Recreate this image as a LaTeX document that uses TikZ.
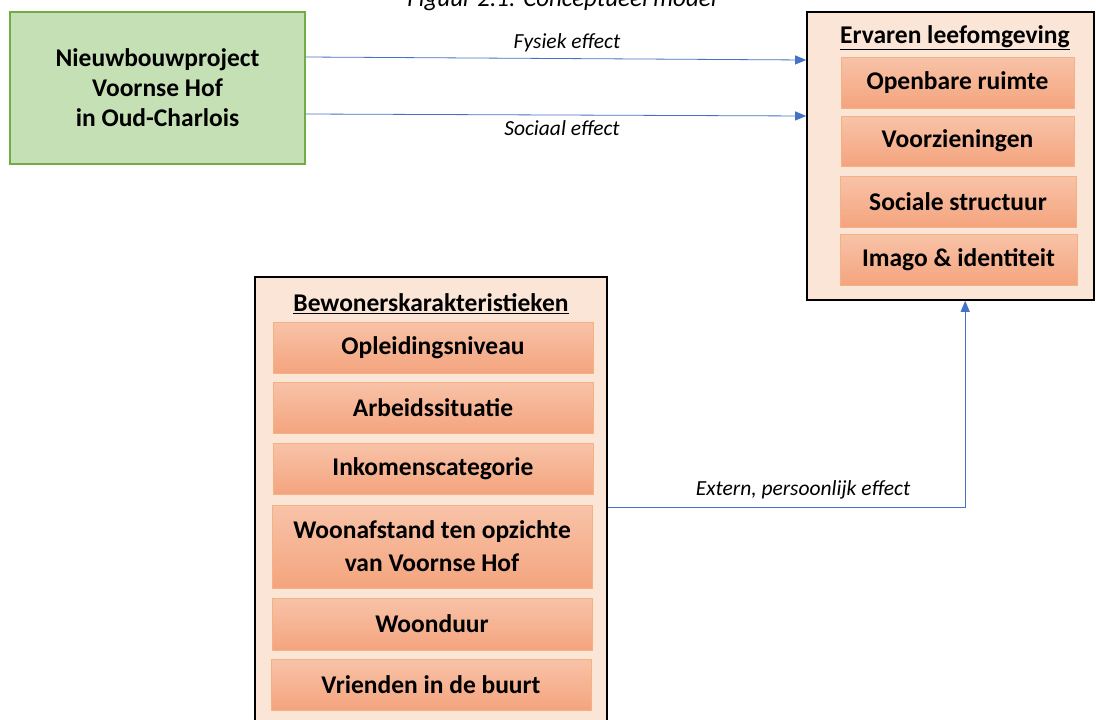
\documentclass[tikz,border=0pt]{standalone}
\usepackage{fontspec}
\setmainfont{Carlito}
\usetikzlibrary{arrows.meta,calc}
\definecolor{greenfill}{HTML}{C5E0B4}
\definecolor{greenline}{HTML}{70AD47}
\definecolor{peach}{HTML}{FBE5D6}
\definecolor{subtop}{HTML}{F8C3A8}
\definecolor{subbot}{HTML}{F4A47E}
\definecolor{subline}{HTML}{F4B183}
\definecolor{arrblue}{HTML}{4472C4}
\tikzset{
  greenbox/.style={draw=greenline, line width=1.6pt, fill=greenfill, inner sep=0pt, align=center, font=\fontsize{25.5}{30}\selectfont\bfseries},
  outerbox/.style={draw=black, line width=1.6pt, fill=peach, inner sep=0pt},
  subbox/.style={draw=subline, line width=1pt, top color=subtop, bottom color=subbot, inner sep=0pt, align=center, font=\fontsize{25.5}{33}\selectfont\bfseries},
  heading/.style={inner sep=0pt, font=\fontsize{25.5}{30}\selectfont\bfseries},
  arr/.style={draw=arrblue, line width=0.8pt, -{Triangle[length=11pt,width=9pt]}},
  lbl/.style={inner sep=0pt, font=\fontsize{21.5}{25}\selectfont\itshape}
}
\begin{document}
\begin{tikzpicture}[x=1pt,y=-1pt]
\useasboundingbox (0,0) rectangle (1096,720);
\begin{scope}
\clip (0,0) rectangle (1096,720);
% caption cut at top
\node[lbl, anchor=base, font=\fontsize{25}{30}\selectfont\itshape] (cap) at (562,6) {Figuur 2.1: Conceptueel model};
% green box
\node[greenbox, minimum width=295pt, minimum height=152pt] (g) at (157.5,88) {Nieuwbouwproject\\Voornse Hof\\in Oud-Charlois};
% right outer box
\node[outerbox, minimum width=287pt, minimum height=288pt] (r) at (950.5,156) {};
\node[heading] (rt) at (955,38) {\underline{Ervaren leefomgeving}};
\node[subbox, minimum width=233pt, minimum height=51pt] (r1) at (957.5,82.5) {Openbare ruimte};
\node[subbox, minimum width=233pt, minimum height=50pt] (r2) at (957.5,141) {Voorzieningen};
\node[subbox, minimum width=236pt, minimum height=51pt] (r3) at (958,201.5) {Sociale structuur};
\node[subbox, minimum width=237pt, minimum height=51pt] (r4) at (958.5,259.5) {Imago \& identiteit};
% bottom left box
\node[outerbox, minimum width=352pt, minimum height=448pt] (b) at (431,501) {};
\node[heading] (bt) at (431,304) {\underline{Bewonerskarakteristieken}};
\node[subbox, minimum width=320pt, minimum height=51pt] (b1) at (433,347.5) {Opleidingsniveau};
\node[subbox, minimum width=320pt, minimum height=51pt] (b2) at (433,407.5) {Arbeidssituatie};
\node[subbox, minimum width=320pt, minimum height=51pt] (b3) at (433,468.5) {Inkomenscategorie};
\node[subbox, minimum width=320pt, minimum height=83pt] (b4) at (432,546.5) {Woonafstand ten opzichte\\van Voornse Hof};
\node[subbox, minimum width=320pt, minimum height=52pt] (b5) at (432,624) {Woonduur};
\node[subbox, minimum width=320pt, minimum height=51pt] (b6) at (431,684.5) {Vrienden in de buurt};
\end{scope}
% arrows
\coordinate (rbot) at ($(r.south west)+(159,0)$);
\draw[arr] (g.east |- 0,57) -- (r.west |- 0,60);
\draw[arr] (g.east |- 0,114) -- (r.west |- 0,116);
\draw[arr] (b.east |- 0,507) -| (rbot);
\node[lbl] (l1) at (567,43) {Fysiek effect};
\node[lbl] (l2) at (562,128) {Sociaal effect};
\node[lbl] (l3) at (803,490) {Extern, persoonlijk effect};
\end{tikzpicture}
\end{document}
